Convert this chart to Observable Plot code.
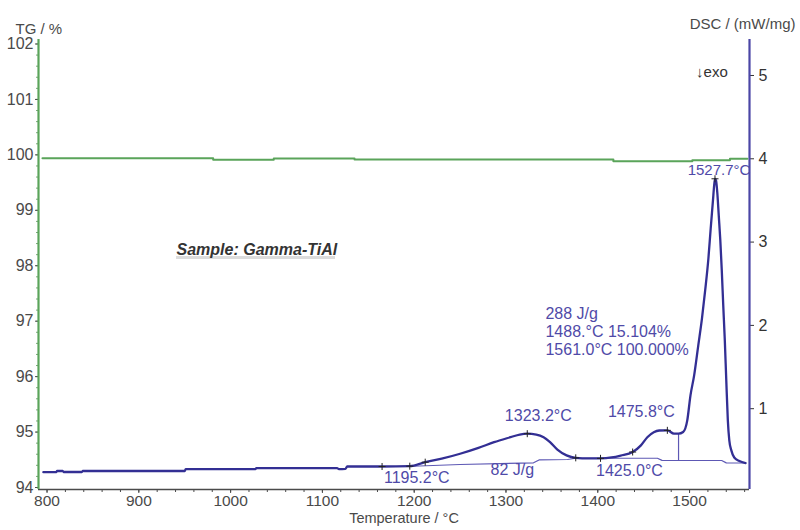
<!DOCTYPE html>
<html>
<head>
<meta charset="utf-8">
<script src="https://cdn.jsdelivr.net/npm/d3@7"></script>
<script src="https://cdn.jsdelivr.net/npm/@observablehq/plot@0.6"></script>
<style>
  body { margin: 0; background: #fff; }
  #chart svg { display: block; }
</style>
</head>
<body>
<div id="chart"></div>
<script>
// DSC signal, mW/mg, against temperature, °C
const dscTemp = [796, 810, 811, 817, 818, 838, 839, 950, 951, 1027, 1028, 1116, 1118, 1125, 1127,
  1165, 1195.2, 1212, 1230, 1250, 1270, 1287, 1305, 1315, 1323.2, 1333, 1341, 1348, 1356, 1366,
  1376, 1390, 1403, 1415, 1425, 1438, 1447, 1454, 1461, 1467, 1475.8, 1483, 1488, 1493,
  1497.5, 1501, 1505, 1509.5, 1513.5, 1517, 1520.5, 1523, 1525.5, 1526.8, 1527.7, 1528.8,
  1530.2, 1531.8, 1533.5, 1535.1, 1536.7, 1538.4, 1540, 1541.7, 1543.3, 1545.5, 1548.7, 1554.2, 1561];
const dscValue = [0.238, 0.238, 0.252, 0.252, 0.240, 0.240, 0.252, 0.252, 0.274, 0.274, 0.286, 0.286, 0.275, 0.277, 0.306,
  0.306, 0.31, 0.358, 0.40, 0.459, 0.53, 0.598, 0.658, 0.69, 0.70, 0.69, 0.658, 0.60, 0.51, 0.44,
  0.41, 0.403, 0.404, 0.415, 0.438, 0.48, 0.56, 0.658, 0.718, 0.738, 0.74, 0.70, 0.70, 0.72,
  0.86, 1.16, 1.40, 1.76, 2.08, 2.42, 2.80, 3.16, 3.50, 3.68, 3.76, 3.74,
  3.595, 3.32, 3.02, 2.66, 2.24, 1.82, 1.34, 0.86, 0.62, 0.50, 0.414, 0.372, 0.348];

// integration baselines under the two effects
const baseTemp = [1191, 1250, 1330, 1336, 1367, 1376, 1465, 1470, 1535, 1540, 1561];
const baseValue = [0.306, 0.33, 0.35, 0.385, 0.39, 0.405, 0.405, 0.38, 0.378, 0.35, 0.348];

// TG mass signal, %
const tgTemp = [795, 981, 1047, 1135, 1417, 1503, 1544, 1563];
const tgValue = [99.94, 99.91, 99.935, 99.915, 99.885, 99.905, 99.93, 99.93];

// evaluation points on the DSC curve
const markTemp = [1165, 1195.2, 1212, 1323.2, 1376, 1403, 1438, 1475.8, 1527.7];
const markValue = [0.306, 0.31, 0.358, 0.70, 0.41, 0.404, 0.48, 0.74, 3.76];

// partial-area split of the main peak
const splitTemp = [1488];
const splitFrom = [0.378];
const splitTo = [0.70];

// axis ticks
const xTicks = [800, 900, 1000, 1100, 1200, 1300, 1400, 1500];
const xMinor = d3.range(800, 1561, 20);
const tgTicks = [94, 95, 96, 97, 98, 99, 100, 101, 102];
const tgMinor = d3.range(94, 102.01, 0.2);
const dscTicks = [1, 2, 3, 4, 5];

// shared frame
const xDomain = [790.7, 1565.3];
const yDomain = [0.030, 5.432];

// TG is drawn on the DSC scale through a linear map
const tgSlope = 0.6655, tgOffset = -62.503;
const tg2dsc = v => tgOffset + tgSlope * v;
const dsc2tg = v => (v - tgOffset) / tgSlope;

const navy = "#332f94";
const violet = "#4f4aa8";
const green = "#5aa45a";
const axisBlue = "#4b46a6";
const grey = "#4a4a4a";
const blank = () => "";

const dsc = dscTemp.map((t, i) => ({t, v: dscValue[i]}));
const base = baseTemp.map((t, i) => ({t, v: baseValue[i]}));
const tg = tgTemp.map((t, i) => ({t, v: tg2dsc(tgValue[i])}));
const marks = markTemp.map((t, i) => ({t, v: markValue[i]}));
const split = splitTemp.map((t, i) => ({t, from: splitFrom[i], to: splitTo[i]}));
const peak = marks[marks.length - 1];

const font = "'Liberation Sans', Arial, sans-serif";

const chart = Plot.plot({
  width: 800,
  height: 530,
  marginLeft: 38,
  marginRight: 51,
  marginTop: 39,
  marginBottom: 41,
  style: {fontFamily: font, fontSize: "16px", color: grey, background: "#fff"},
  x: {domain: xDomain},
  y: {domain: yDomain},
  marks: [
    // axes
    Plot.axisX(xMinor, {anchor: "bottom", tickSize: 3, tickFormat: blank, label: null}),
    Plot.axisX(xTicks, {anchor: "bottom", tickSize: 4, tickPadding: 1, fontSize: 15.5, label: null,
      tickFormat: d => String(d)}),
    Plot.axisY(tgMinor.map(tg2dsc), {anchor: "left", tickSize: 2, tickFormat: blank, label: null, color: "#7aa87a"}),
    Plot.axisY(tgTicks.map(tg2dsc), {anchor: "left", tickSize: 3, tickPadding: 2, fontSize: 16, label: null,
      tickFormat: d => String(Math.round(dsc2tg(d)))}),
    Plot.axisY(dscTicks, {anchor: "right", tickSize: 4, tickPadding: 5, fontSize: 16, label: null, color: "#333",
      tickFormat: d => String(d)}),
    Plot.ruleY([yDomain[0]], {stroke: grey, strokeWidth: 1.5}),
    Plot.ruleX([xDomain[0]], {stroke: green, strokeWidth: 2.2}),
    Plot.ruleX([xDomain[1]], {stroke: axisBlue, strokeWidth: 2.2}),

    // axis titles
    Plot.text(["TG / %"], {frameAnchor: "top-left", dx: -23, dy: -16, textAnchor: "start", fontSize: 15, fill: grey}),
    Plot.text(["DSC / (mW/mg)"], {frameAnchor: "top-right", dx: 46, dy: -21, textAnchor: "end", fontSize: 15, fill: grey}),
    Plot.text(["Temperature / °C"], {frameAnchor: "bottom", dx: 10, dy: 33.5, fontSize: 14.5, fill: grey}),

    // TG curve
    Plot.line(tg, {x: "t", y: "v", stroke: green, strokeWidth: 2, curve: "step-after"}),

    // integration baselines and peak split
    Plot.line(base, {x: "t", y: "v", stroke: "#5d58b4", strokeWidth: 1.2}),
    Plot.ruleX(split, {x: "t", y1: "from", y2: "to", stroke: "#5d58b4", strokeWidth: 1.2}),

    // DSC curve
    Plot.line(dsc, {x: "t", y: "v", stroke: navy, strokeWidth: 2.3, curve: "monotone-x"}),
    Plot.dot(marks, {x: "t", y: "v", symbol: "plus", r: 2.4, stroke: "#222", strokeWidth: 1}),

    // evaluation labels
    Plot.text([peak], {x: "t", y: "v", text: d => `${d.t.toFixed(1)}°C`, dx: 4, dy: -9, fill: violet, fontSize: 15}),
    Plot.text([marks[3]], {x: "t", y: "v", text: d => `${d.t.toFixed(1)}°C`, dx: 11, dy: -18, fill: violet, fontSize: 16}),
    Plot.text([marks[7]], {x: "t", y: "v", text: d => `${d.t.toFixed(1)}°C`, dx: -26, dy: -18, fill: violet, fontSize: 16}),
    Plot.text([marks[1]], {x: "t", y: "v", text: d => `${d.t.toFixed(1)}°C`, dx: 7, dy: 12, fill: violet, fontSize: 16}),
    Plot.text(["82 J/g"], {x: 1307, y: 0.27, fill: violet, fontSize: 16}),
    Plot.text(["1425.0°C"], {x: 1434.5, y: 0.258, fill: violet, fontSize: 16}),
    Plot.text(["288 J/g", "1488.°C 15.104%", "1561.0°C 100.000%"], {
      x: 1343, y: [2.143, 1.921, 1.705], textAnchor: "start", fill: violet, fontSize: 16
    }),
    Plot.text(["↓exo"], {x: 1524.4, y: 5.036, fill: "#333", fontSize: 15}),

    // sample name
    Plot.ruleY([2.815], {x1: 941.1, x2: 1114.3, stroke: "#dcdcdc", strokeWidth: 3}),
    Plot.text(["Sample: Gamma-TiAl"], {x: 941.1, y: 2.911, textAnchor: "start", fontSize: 16,
      fontWeight: "bold", fontStyle: "italic", fill: "#333"})
  ]
});

document.getElementById("chart").appendChild(chart);
</script>
</body>
</html>
